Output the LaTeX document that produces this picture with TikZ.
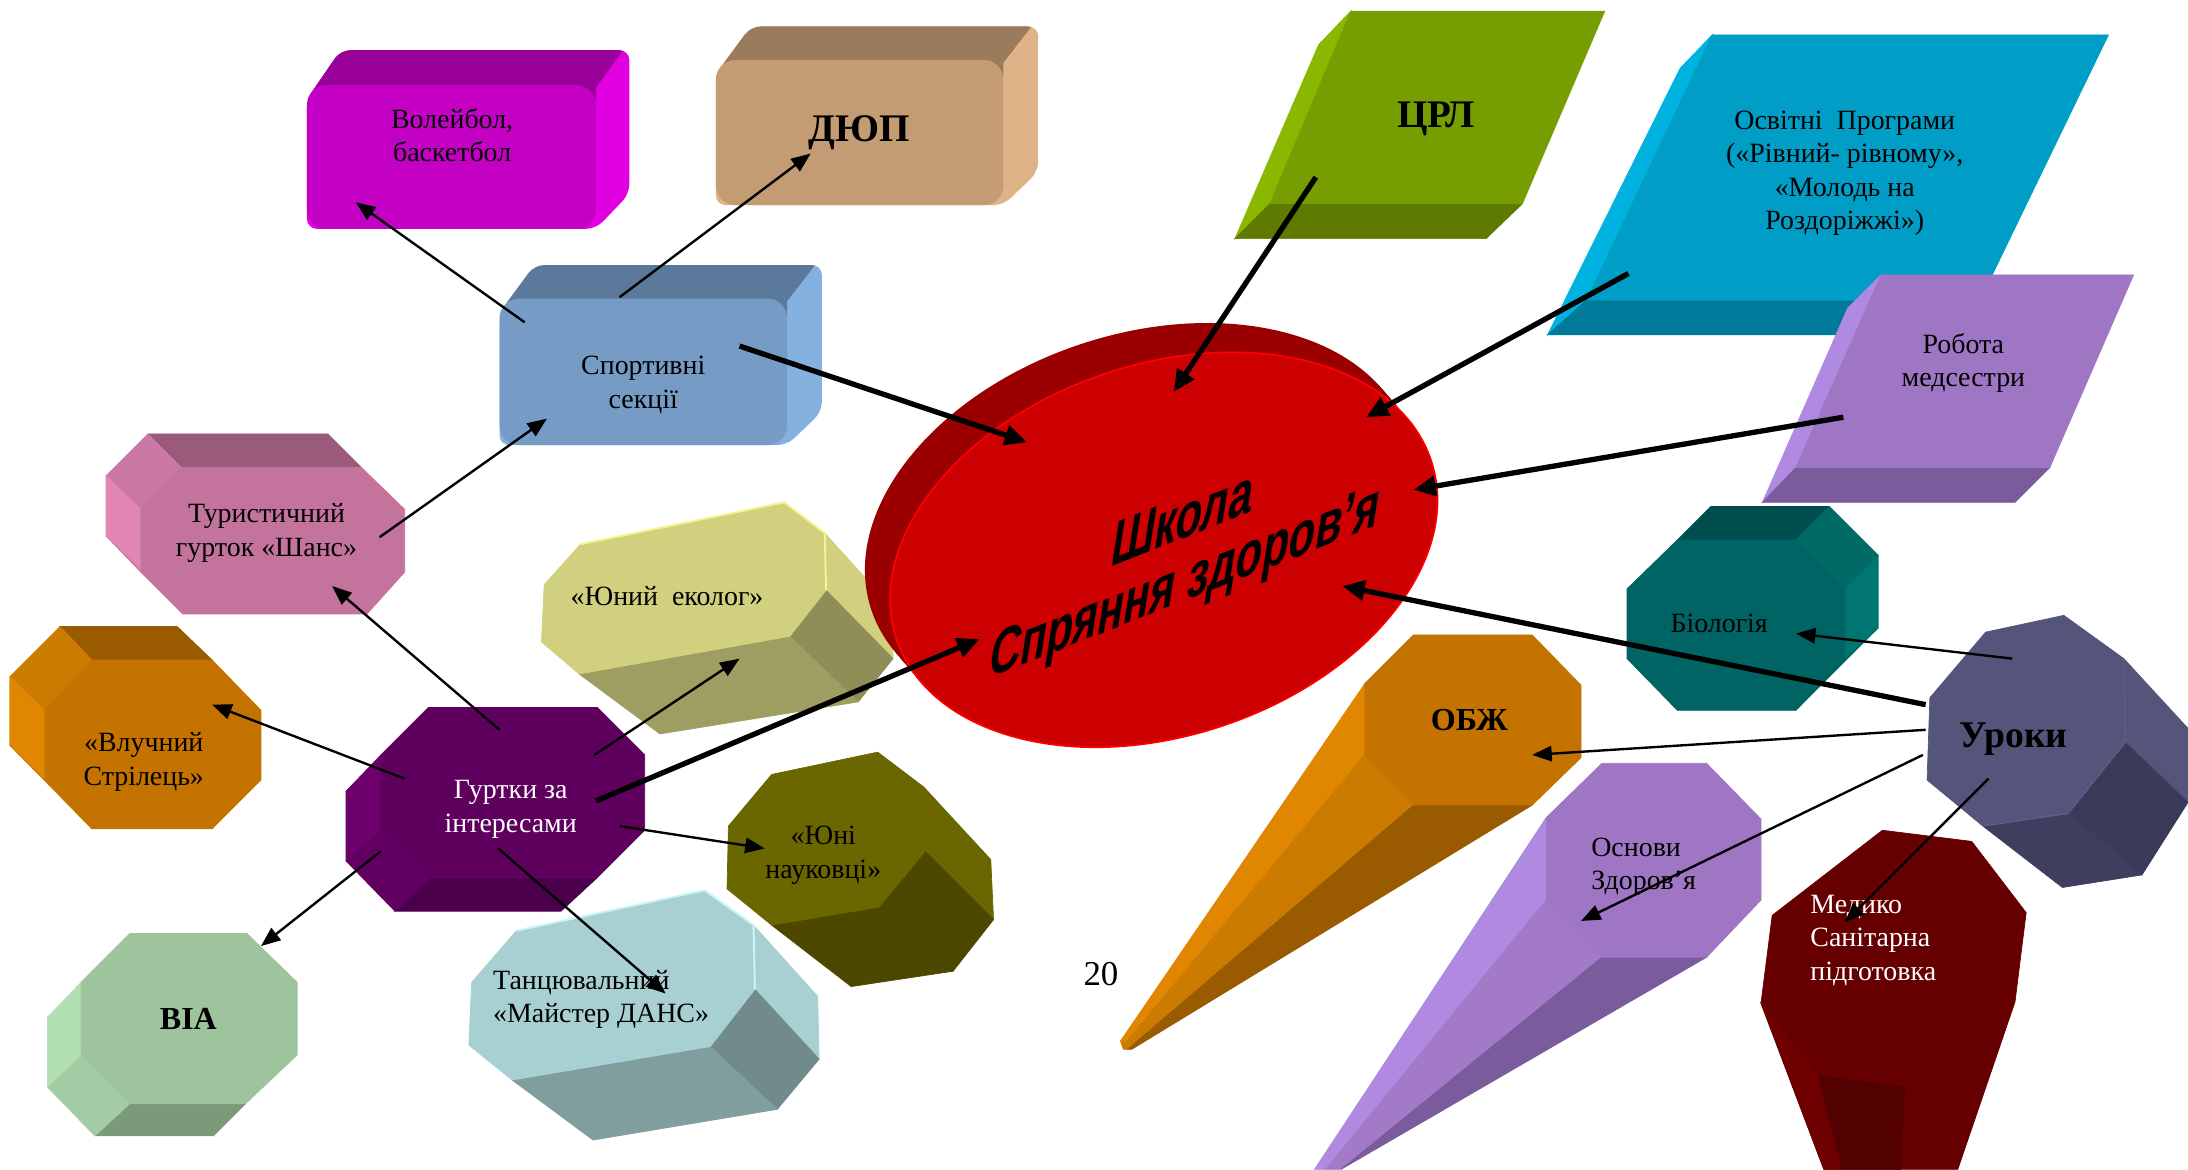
\documentclass[tikz,border=0pt]{standalone}
\usepackage{fontspec}
\setmainfont{Liberation Serif}
\newfontfamily\arialf{Liberation Sans}
\usetikzlibrary{arrows.meta}
\definecolor{magF}{HTML}{C400C4}\definecolor{magT}{HTML}{990099}\definecolor{magR}{HTML}{E000E0}
\definecolor{tanF}{HTML}{C49C74}\definecolor{tanT}{HTML}{9A7B5C}\definecolor{tanR}{HTML}{DFB387}
\definecolor{bluF}{HTML}{769CC6}\definecolor{bluT}{HTML}{5B7A9B}\definecolor{bluR}{HTML}{85B1E0}
\definecolor{pnkF}{HTML}{C4739C}\definecolor{pnkT}{HTML}{9A5A7B}\definecolor{pnkU}{HTML}{CB78A4}\definecolor{pnkL}{HTML}{E085B4}
\definecolor{orgF}{HTML}{C47300}\definecolor{orgT}{HTML}{995A00}\definecolor{orgU}{HTML}{CB7C00}\definecolor{orgL}{HTML}{E08600}
\definecolor{purF}{HTML}{5F005F}\definecolor{purL}{HTML}{6E006E}\definecolor{purU}{HTML}{620062}\definecolor{purB}{HTML}{4C004C}
\definecolor{grnF}{HTML}{9DC49D}\definecolor{grnL}{HTML}{B3E0B3}\definecolor{grnU}{HTML}{A4CCA4}\definecolor{grnB}{HTML}{7A9A7A}
\definecolor{teaF}{HTML}{006464}\definecolor{teaT}{HTML}{004E4E}\definecolor{teaU}{HTML}{006B66}\definecolor{teaR}{HTML}{007572}
\definecolor{limF}{HTML}{769E00}\definecolor{limL}{HTML}{8AB800}\definecolor{limB}{HTML}{5E7A00}
\definecolor{cyaF}{HTML}{009EC6}\definecolor{cyaL}{HTML}{00B2E0}\definecolor{cyaB}{HTML}{007A9B}
\definecolor{lilF}{HTML}{9E76C4}\definecolor{lilL}{HTML}{B089E0}\definecolor{lilU}{HTML}{A27AC8}\definecolor{lilB}{HTML}{7A5B9B}
\definecolor{yelF}{HTML}{D0D07E}\definecolor{yelE}{HTML}{F5F590}\definecolor{yelD}{HTML}{8E8E56}\definecolor{yelB}{HTML}{9E9E62}
\definecolor{olvF}{HTML}{6A6600}\definecolor{olvD}{HTML}{4C4800}
\definecolor{icyF}{HTML}{A8D0D2}\definecolor{icyE}{HTML}{C8F5F8}\definecolor{icyD}{HTML}{718A8C}\definecolor{icyB}{HTML}{809E9E}
\definecolor{navF}{HTML}{55557B}\definecolor{navD}{HTML}{3A3A59}\definecolor{navB}{HTML}{3E3E5E}\definecolor{navE}{HTML}{5F5F88}
\definecolor{wineF}{HTML}{660000}\definecolor{wineD}{HTML}{520000}\definecolor{wineL}{HTML}{6E0000}
\definecolor{redF}{HTML}{CC0000}\definecolor{redE}{HTML}{FF0000}\definecolor{redB}{HTML}{9A0000}
\newcommand{\face}[2]{\fill[#1,draw=#1,line width=.25pt] #2 -- cycle;}
% x1 y1 x2 y2 dx dy top right front
\newcommand{\roundbox}[9]{%
  \fill[#8,rounded corners=3.5pt] (#1,#2+10) -- (#1+#5,#2-#6) -- (#3+#5,#2-#6) -- (#3+#5,#4-#6) -- (#3,#4) -- (#1,#4) -- cycle;
  \begin{scope}
    \clip (#1-5,#2+12) -- (#1-5,#2-#6-5) -- (#3+#5-1,#2-#6-5) -- (#3,#2+2) -- (#3,#2+12) -- cycle;
    \fill[#7,rounded corners=3.5pt] (#1,#2+10) -- (#1+#5,#2-#6) -- (#3+#5,#2-#6) -- (#3+#5,#4-#6) -- (#3,#4) -- (#1,#4) -- cycle;
  \end{scope}
  \fill[#9,rounded corners=7pt] (#1,#2) rectangle (#3,#4);}
\tikzset{
  x=0.5pt,y=-0.5pt,
  lbl/.style={font=\fontsize{10}{12}\selectfont,align=center,inner sep=0pt,text=black},
  lbll/.style={lbl,align=left},
  big/.style={lbl,font=\fontsize{12.5}{14}\selectfont\bfseries},
  wht/.style={text=white},
  wordart/.style={inner sep=0pt,font=\arialf\fontsize{21}{27}\selectfont\bfseries},
  thin arrow/.style={line width=.85pt,-{Triangle[length=7pt,width=5.5pt]}},
  thick arrow/.style={line width=1.9pt,-{Triangle[length=8pt,width=7pt]}},
}
\begin{document}
\begin{tikzpicture}
\useasboundingbox (0,0) rectangle (1568,838);
% boxes
\roundbox{220}{61}{427}{164}{24}{25}{magT}{magR}{magF}
\roundbox{513}{43}{719}{147}{25}{24}{tanT}{tanR}{tanF}
\roundbox{358}{214}{564}{319}{25}{24}{bluT}{bluR}{bluF}
% parallelograms
\face{limL}{(968,8)--(945,32)--(885,171)--(910,146)}
\face{limB}{(910,146)--(1091,146)--(1065,171)--(885,171)}
\face{limF}{(968,8)--(1150,8)--(1091,146)--(910,146)}
\face{cyaL}{(1227,25)--(1204,49)--(1109,240)--(1137,215)}
\face{cyaB}{(1137,215)--(1419,215)--(1395,240)--(1109,240)}
\face{cyaF}{(1227,25)--(1511,25)--(1419,215)--(1137,215)}
\face{lilL}{(1348,197)--(1324,221)--(1263,360)--(1287,335)}
\face{lilB}{(1287,335)--(1469,335)--(1444,360)--(1263,360)}
\face{lilF}{(1348,197)--(1529,197)--(1469,335)--(1287,335)}
% pink octagon
\face{pnkT}{(106,311)--(235,311)--(259,335)--(130,335)}
\face{pnkU}{(106,311)--(130,335)--(101,365)--(76,341)}
\face{pnkL}{(76,341)--(101,365)--(101,410)--(76,384)}
\face{pnkU}{(76,384)--(101,410)--(131,440)}
\face{pnkF}{(130,335)--(259,335)--(290,365)--(290,410)--(263,440)--(131,440)--(101,410)--(101,365)}
% orange octagon
\face{orgT}{(43,449)--(127,449)--(152,473)--(66,473)}
\face{orgU}{(43,449)--(66,473)--(32,509)--(7,485)}
\face{orgL}{(7,485)--(32,509)--(32,559)--(7,534)}
\face{orgU}{(7,534)--(32,559)--(66,594)}
\face{orgF}{(66,473)--(152,473)--(187,509)--(187,559)--(152,594)--(66,594)--(32,559)--(32,509)}
% yellow
\face{yelF}{(562,360)--(591,382)--(639,435)--(640,472)--(592,423)}
\face{yelD}{(592,423)--(640,472)--(615,503)--(566,456)}
\face{yelB}{(415,483)--(566,456)--(615,503)--(473,526)}
\face{yelF}{(416,390)--(562,360)--(591,382)--(592,423)--(566,456)--(415,483)--(388,460)--(390,419)}
\draw[yelE,line width=.7pt] (416,390)--(562,360)--(591,382)--(592,423);
% ellipse
\foreach \t in {0,0.1,...,1.01}{
  \fill[redB] ({816+18*\t},{373+21*\t}) circle[x radius=202,y radius=133,rotate=18.5];}
\draw[redE,fill=redF,line width=.6pt] (834,394) circle[x radius=202,y radius=133,rotate=18.5];
\begin{scope}[shift={(848,371)},cm={.737,.289,.176,1.115,(0,0)},transform shape]
  \node[wordart] (school1) at (0,0) {Школа};
\end{scope}
\begin{scope}[shift={(849,420)},cm={.737,.289,.176,1.115,(0,0)},transform shape]
  \node[wordart] (school2) at (0,0) {Спряння здоров’я};
\end{scope}
% olive
\face{olvF}{(662,564)--(710,616)--(712,659)--(663,610)}
\face{olvD}{(663,610)--(712,659)--(683,696)--(630,650)}
\face{olvD}{(553,663)--(630,650)--(683,696)--(610,707)}
\face{olvF}{(553,555)--(629,539)--(662,564)--(663,610)--(630,650)--(553,663)--(521,637)--(522,592)}
% icy
\face{icyF}{(540,663)--(586,714)--(587,759)--(541,709)}
\face{icyD}{(541,709)--(587,759)--(557,795)--(509,750)}
\face{icyB}{(367,774)--(509,750)--(557,795)--(425,817)}
\face{icyF}{(370,667)--(505,638)--(540,663)--(541,709)--(509,750)--(367,774)--(336,749)--(338,704)}
\draw[icyE,line width=.7pt] (370,667)--(505,638)--(540,663)--(541,709);
% purple octagon
\face{purB}{(308,629)--(428,629)--(402,653)--(283,653)}
\face{purU}{(248,617)--(273,595)--(308,629)--(283,653)}
\face{purL}{(273,541)--(248,567)--(248,617)--(273,595)}
\face{purF}{(307,507)--(428,507)--(462,541)--(462,595)--(428,629)--(308,629)--(273,595)--(273,541)}
% green octagon
\face{grnB}{(93,791)--(176,791)--(153,814)--(68,814)}
\face{grnU}{(34,779)--(58,756)--(93,791)--(68,814)}
\face{grnL}{(58,704)--(34,729)--(34,779)--(58,756)}
\face{grnF}{(93,669)--(177,669)--(213,704)--(213,756)--(176,791)--(93,791)--(58,756)--(58,704)}
% teal octagon
\face{teaT}{(1226,363)--(1311,363)--(1287,387)--(1202,387)}
\face{teaU}{(1287,387)--(1311,363)--(1346,398)--(1322,422)}
\face{teaR}{(1322,422)--(1346,398)--(1346,450)--(1322,473)}
\face{teaU}{(1322,473)--(1346,450)--(1287,509)}
\face{teaF}{(1202,387)--(1287,387)--(1322,422)--(1322,473)--(1287,509)--(1202,509)--(1166,472)--(1166,422)}
% OBZh
\face{orgL}{(978,490)--(978,541)--(806,748)--(803,746)}
\face{orgU}{(978,541)--(1013,577)--(808,752)--(805,752)--(803,746)--(806,748)}
\face{orgT}{(1013,577)--(1098,577)--(811,752)--(808,752)}
\face{orgF}{(1013,455)--(1098,455)--(1133,491)--(1133,543)--(1098,577)--(1013,577)--(978,541)--(978,490)}
% Osnovy
\face{lilL}{(1108,586)--(1108,645)--(950,838)--(942,838)}
\face{lilU}{(1108,645)--(1148,686)--(961,838)--(950,838)}
\face{lilB}{(1148,686)--(1223,686)--(961,838)}
\face{lilF}{(1148,547)--(1223,547)--(1262,587)--(1262,645)--(1223,686)--(1148,686)--(1108,645)--(1108,586)}
% wine
\face{wineF}{(1349,595)--(1413,603)--(1452,654)--(1444,718)--(1403,838)--(1307,838)--(1262,719)--(1270,656)}
\face{wineL}{(1262,719)--(1303,771)--(1320,838)--(1307,838)}
\face{wineD}{(1303,771)--(1365,779)--(1362,838)--(1320,838)}
% navy
\face{navF}{(1522,472)--(1568,522)--(1568,575)--(1523,532)}
\face{navD}{(1523,532)--(1568,575)--(1535,627)--(1482,583)}
\face{navB}{(1421,592)--(1482,583)--(1535,627)--(1478,636)}
\face{navF}{(1423,453)--(1479,441)--(1522,472)--(1523,532)--(1482,583)--(1421,592)--(1381,559)--(1383,500)}
\draw[navE,line width=.4pt] (1522,472)--(1523,532)--(1482,583)--(1421,592);
% labels
\node[lbl] (n1) at (324,97) {Волейбол,\\баскетбол};
\node[big,font=\fontsize{14}{16}\selectfont\bfseries] (n2) at (616,95) {ДЮП};
\node[lbl] (n3) at (461,276) {Спортивні\\секції};
\node[lbl] (n4) at (191,382) {Туристичний\\гурток «Шанс»};
\node[lbl] (n5) at (478,427) {«Юний\ \ еколог»};
\node[lbl] (n6) at (103,546) {«Влучний\\Стрілець»};
\node[lbl,wht] (n7) at (366,580) {Гуртки за\\інтересами};
\node[big,font=\fontsize{11.5}{14}\selectfont\bfseries] (n8) at (135,730) {ВІА};
\node[lbll,anchor=north west] (n9) at (353,695) {Танцювальний\\«Майстер ДАНС»};
\node[lbl] (n10) at (590,613) {«Юні\\науковці»};
\node[big,font=\fontsize{14}{16}\selectfont\bfseries] (n11) at (1029,85) {ЦРЛ};
\node[lbl] (n12) at (1322,124) {Освітні\ \ Програми\\(«Рівний- рівному»,\\«Молодь на\\Роздоріжжі»)};
\node[lbl] (n13) at (1407,260) {Робота\\медсестри};
\node[lbl] (n14) at (1232,447) {Біологія};
\node[big,font=\fontsize{13.5}{16}\selectfont\bfseries] (n15) at (1443,530) {Уроки};
\node[big,font=\fontsize{11.5}{14}\selectfont\bfseries] (n16) at (1053,516) {ОБЖ};
\node[lbll,anchor=north west] (n17) at (1140,600) {Основи\\Здоров’я};
\node[lbll,wht,anchor=north west] (n18) at (1297,641) {Медико\\Санітарна\\підготовка};
\node[lbl,font=\fontsize{12.5}{14}\selectfont] (n19) at (789,698) {20};
% connector ends
\coordinate (sA) at (530,248); \coordinate (sB) at (736,317);
\coordinate (zA) at (943,127); \coordinate (zB) at (841,281);
\coordinate (oA) at (1167,196); \coordinate (oB) at (979,299);
\coordinate (rA) at (1321,299); \coordinate (rB) at (1013,351);
\coordinate (uA) at (1380,505); \coordinate (uB) at (962,420);
\coordinate (gA) at (427,574); \coordinate (gB) at (702,458);
\coordinate (a1) at (376,231); \coordinate (b1) at (255,145);
\coordinate (a2) at (444,213); \coordinate (b2) at (581,110);
\coordinate (a3) at (272,385); \coordinate (b3) at (392,300);
\coordinate (a4) at (358,523); \coordinate (b4) at (238,420);
\coordinate (a5) at (290,558); \coordinate (b5) at (152,505);
\coordinate (a6) at (273,610); \coordinate (b6) at (187,678);
\coordinate (a7) at (426,541); \coordinate (b7) at (530,472);
\coordinate (a8) at (444,592); \coordinate (b8) at (548,608);
\coordinate (a9) at (357,608); \coordinate (b9) at (477,712);
\coordinate (a10) at (1442,472); \coordinate (b10) at (1287,454);
\coordinate (a11) at (1380,523); \coordinate (b11) at (1098,541);
\coordinate (a12) at (1378,541); \coordinate (b12) at (1133,660);
\coordinate (a13) at (1425,558); \coordinate (b13) at (1322,661);
\foreach \p/\q in {sA/sB,zA/zB,oA/oB,rA/rB,uA/uB,gA/gB} \draw[thick arrow] (\p)--(\q);
\foreach \i in {1,...,13} \draw[thin arrow] (a\i)--(b\i);
\end{tikzpicture}
\end{document}
